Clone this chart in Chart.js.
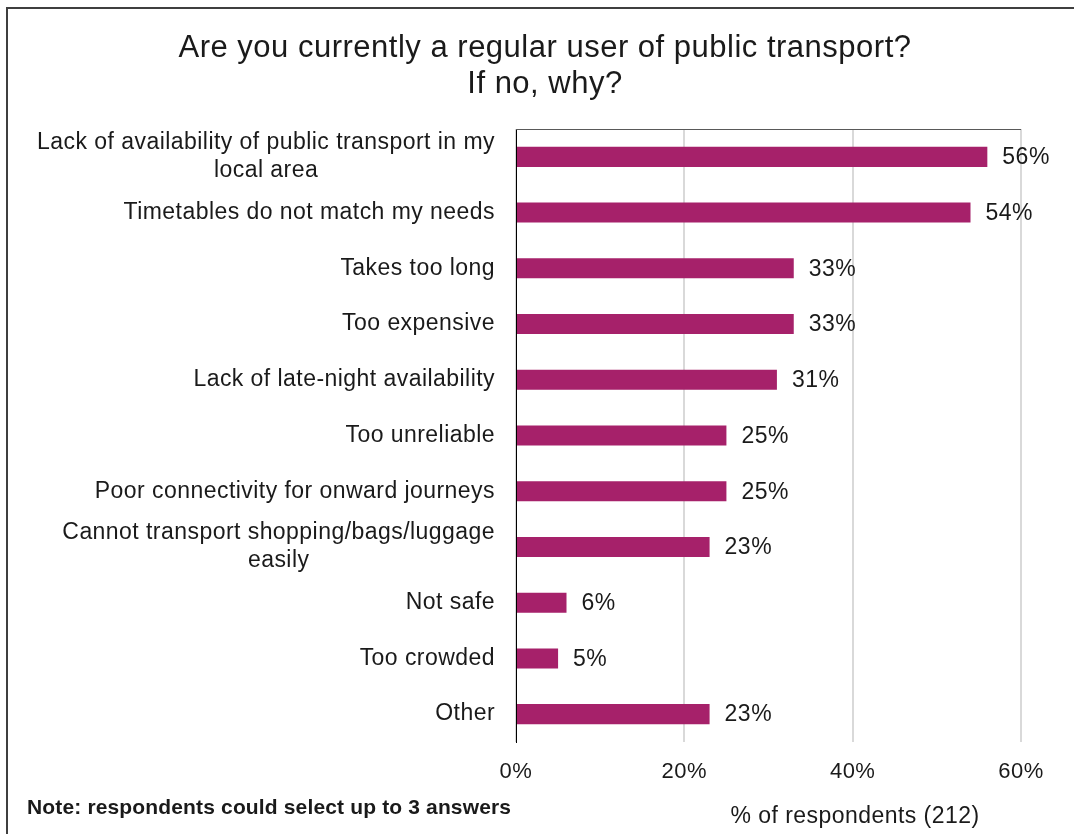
<!DOCTYPE html>
<html>
<head>
<meta charset="utf-8">
<title>Public transport use</title>
<script src="https://cdn.jsdelivr.net/npm/chart.js@4.4.1/dist/chart.umd.min.js"></script>
<style>
  html, body { margin: 0; padding: 0; background: #fff; }
  canvas { display: block; }
</style>
</head>
<body>
<canvas id="reasonsChart" width="1074" height="834"></canvas>
<script>
// survey answers, top to bottom
const reasons = [
  ['Lack of availability of public transport in my', 'local area'],
  ['Timetables do not match my needs'],
  ['Takes too long'],
  ['Too expensive'],
  ['Lack of late-night availability'],
  ['Too unreliable'],
  ['Poor connectivity for onward journeys'],
  ['Cannot transport shopping/bags/luggage', 'easily'],
  ['Not safe'],
  ['Too crowded'],
  ['Other'],
];
const shares = [56, 54, 33, 33, 31, 25, 25, 23, 6, 5, 23];
const xTicks = [0, 20, 40, 60];

const titleLines = ['Are you currently a regular user of public transport?', 'If no, why?'];
const axisLabel = '% of respondents (212)';
const footNote = 'Note: respondents could select up to 3 answers';

const FONT = '"Liberation Sans", Arial, sans-serif';
const INK = '#1a1a1a';
const BAR = '#a6216a';

// slightly looser tracking for everything Chart.js writes
const tracking = {
  id: 'tracking',
  beforeDraw(chart) {
    chart.ctx.letterSpacing = '0.5px';
  }
};

// category labels: right edge fixed, multi-line labels centred within their block
const categoryLabels = {
  id: 'categoryLabels',
  afterDraw(chart) {
    const { ctx, scales: { y } } = chart;
    const rightEdge = chart.chartArea.left - 21;
    const lineH = 28;
    ctx.save();
    ctx.letterSpacing = '0.45px';
    ctx.font = `23px ${FONT}`;
    ctx.fillStyle = INK;
    ctx.textAlign = 'center';
    ctx.textBaseline = 'middle';
    reasons.forEach((lines, i) => {
      const cy = y.getPixelForValue(i);
      const w = Math.max(...lines.map(l => ctx.measureText(l).width));
      const cx = rightEdge - w / 2;
      const y0 = cy - (lines.length - 1) * lineH / 2;
      lines.forEach((l, k) => ctx.fillText(l, cx, y0 + k * lineH));
    });
    ctx.restore();
  }
};

// value labels after each bar
const valueLabels = {
  id: 'valueLabels',
  afterDatasetsDraw(chart) {
    const { ctx } = chart;
    const meta = chart.getDatasetMeta(0);
    ctx.save();
    ctx.letterSpacing = '0.5px';
    ctx.font = `23px ${FONT}`;
    ctx.fillStyle = INK;
    ctx.textAlign = 'left';
    ctx.textBaseline = 'middle';
    meta.data.forEach((bar, i) => {
      ctx.fillText(shares[i] + '%', bar.x + 15, bar.y + 1);
    });
    ctx.restore();
  }
};

// frame, heading, plot top edge, axis caption and note
const extras = {
  id: 'extras',
  afterDraw(chart) {
    const { ctx, chartArea: a } = chart;
    ctx.save();
    ctx.strokeStyle = '#3f3f3f';
    ctx.lineWidth = 2;
    ctx.beginPath();
    ctx.moveTo(7, chart.height);
    ctx.lineTo(7, 8);
    ctx.lineTo(chart.width, 8);
    ctx.stroke();

    ctx.strokeStyle = '#595959';
    ctx.lineWidth = 1;
    ctx.beginPath();
    ctx.moveTo(a.left, a.top + 0.5);
    ctx.lineTo(a.right, a.top + 0.5);
    ctx.stroke();

    ctx.fillStyle = INK;
    ctx.textBaseline = 'middle';
    ctx.textAlign = 'center';
    ctx.letterSpacing = '0.5px';
    ctx.font = `31px ${FONT}`;
    titleLines.forEach((t, k) => ctx.fillText(t, 545, 48 + k * 36));

    ctx.letterSpacing = '0.45px';
    ctx.font = `23px ${FONT}`;
    ctx.fillText(axisLabel, 855, 817);

    ctx.textAlign = 'left';
    ctx.letterSpacing = '0.15px';
    ctx.font = `bold 21px ${FONT}`;
    ctx.fillText(footNote, 27, 808);
    ctx.restore();
  }
};

new Chart(document.getElementById('reasonsChart'), {
  type: 'bar',
  data: {
    labels: reasons.map(r => r.join(' ')),
    datasets: [{
      data: shares,
      backgroundColor: BAR,
      borderWidth: 0,
      categoryPercentage: 1,
      barPercentage: 0.36,
    }],
  },
  options: {
    indexAxis: 'y',
    responsive: false,
    animation: false,
    layout: { padding: { top: 129, left: 16, right: 53, bottom: 0 } },
    plugins: {
      legend: { display: false },
      tooltip: { enabled: false },
      title: { display: false },
    },
    scales: {
      x: {
        min: 0,
        max: 60,
        afterBuildTicks: (scale) => { scale.ticks = xTicks.map(v => ({ value: v })); },
        afterFit: (scale) => { scale.height = 92; },
        ticks: {
          callback: (v) => v + '%',
          color: INK,
          padding: 17,
          font: { family: FONT, size: 22 },
        },
        grid: { color: '#d9d9d9', lineWidth: 2, drawTicks: false },
        border: { display: false },
      },
      y: {
        afterFit: (scale) => { scale.width = 500; },
        ticks: { display: false },
        grid: { display: false, drawTicks: false },
        border: { color: '#000', width: 1 },
      },
    },
  },
  plugins: [tracking, categoryLabels, valueLabels, extras],
});
</script>
</body>
</html>
